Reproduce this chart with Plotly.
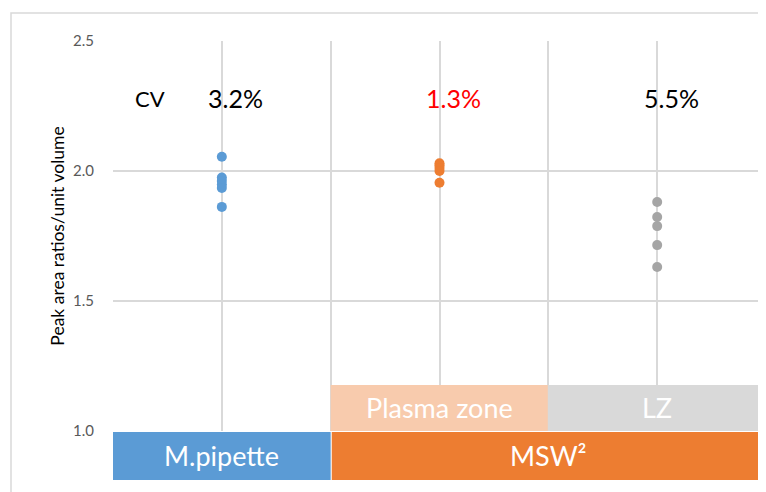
import plotly.graph_objects as go

# Data
groups = ["M.pipette", "Plasma zone", "LZ"]
group_x = [1, 3, 5]
mpipette_vals = [2.055, 1.975, 1.962, 1.948, 1.935, 1.862]
plasma_vals = [2.03, 2.022, 2.012, 2.0, 1.955]
lz_vals = [1.881, 1.823, 1.788, 1.715, 1.631]
cv_labels = ["3.2%", "1.3%", "5.5%"]
cv_colors = ["#000000", "#FF0000", "#000000"]
colors = ["#5B9BD5", "#ED7D31", "#A5A5A5"]
y_ticks = [1.0, 1.5, 2.0, 2.5]

FONT = "Lato"
GRID = "#D9D9D9"

fig = go.Figure()
for vals, xc, col in zip([mpipette_vals, plasma_vals, lz_vals], group_x, colors):
    fig.add_trace(go.Scatter(
        x=[xc] * len(vals), y=vals, mode="markers",
        marker=dict(color=col, size=10, line=dict(width=0)),
        showlegend=False, cliponaxis=False,
    ))

# page body has an 8px margin, so the figure is sized to fit inside the window
fig.update_layout(
    width=758, height=484,
    margin=dict(l=105, r=0, t=33, b=61, autoexpand=False),
    paper_bgcolor="white", plot_bgcolor="white",
    font=dict(family=FONT),
    xaxis=dict(range=[0, 6], dtick=1, tick0=0, showticklabels=False,
               showgrid=True, gridcolor=GRID, gridwidth=1.5,
               zeroline=False, showline=False, fixedrange=True),
    yaxis=dict(range=[1.0, 2.5], tickvals=y_ticks, tickformat=".1f",
               showgrid=True, gridcolor=GRID, gridwidth=1.5,
               zeroline=False, showline=False,
               ticks="outside", ticklen=15, tickcolor="rgba(0,0,0,0)",
               tickfont=dict(size=15, color="#595959", family=FONT),
               title=dict(text="Peak area ratios/unit volume",
                          font=dict(size=17.5, color="#000000", family=FONT),
                          standoff=3)),
)

shapes = []
# outer chart frame
shapes.append(dict(type="rect", xref="paper", yref="paper",
                   x0=-0.1562, x1=1.05, y0=-0.25, y1=1.0718,
                   line=dict(color=GRID, width=1.5), fillcolor="rgba(0,0,0,0)",
                   layer="below"))
# category boxes
shapes.append(dict(type="rect", xref="x", yref="paper", x0=0, x1=2,
                   y0=-0.1256, y1=-0.0026, fillcolor="#5B9BD5", line=dict(width=0)))
shapes.append(dict(type="rect", xref="x", yref="paper", x0=2.01, x1=6.05,
                   y0=-0.1256, y1=-0.0026, fillcolor="#ED7D31", line=dict(width=0)))
shapes.append(dict(type="rect", xref="x", yref="paper", x0=2.0, x1=3.995,
                   y0=0.0, y1=0.118, fillcolor="#F8CBAD", line=dict(width=0)))
shapes.append(dict(type="rect", xref="x", yref="paper", x0=4.005, x1=6.05,
                   y0=0.0, y1=0.118, fillcolor="#D9D9D9", line=dict(width=0)))
fig.update_layout(shapes=shapes)

box_font = dict(size=27, color="white", family=FONT)
ann = []
ann.append(dict(x=1, y=-0.064, xref="x", yref="paper", text=groups[0],
                xanchor="center", yanchor="middle", showarrow=False, font=box_font))
ann.append(dict(x=4, y=-0.064, xref="x", yref="paper", text="MSW²",
                xanchor="center", yanchor="middle", showarrow=False, font=box_font))
ann.append(dict(x=3, y=0.059, xref="x", yref="paper", text=groups[1],
                xanchor="center", yanchor="middle", showarrow=False, font=box_font))
ann.append(dict(x=5, y=0.059, xref="x", yref="paper", text=groups[2],
                xanchor="center", yanchor="middle", showarrow=False, font=box_font))
ann.append(dict(x=0.34, y=2.28, xref="x", yref="y", text="CV",
                xanchor="center", yanchor="middle",
                showarrow=False, font=dict(size=22, color="black", family=FONT)))
for xc, lab, c in zip(group_x, cv_labels, cv_colors):
    ann.append(dict(x=xc + 0.13, y=2.28, xref="x", yref="y", text=lab,
                    xanchor="center", yanchor="middle",
                    showarrow=False, font=dict(size=25, color=c, family=FONT)))
fig.update_layout(annotations=ann)

fig.write_html("out.html")
